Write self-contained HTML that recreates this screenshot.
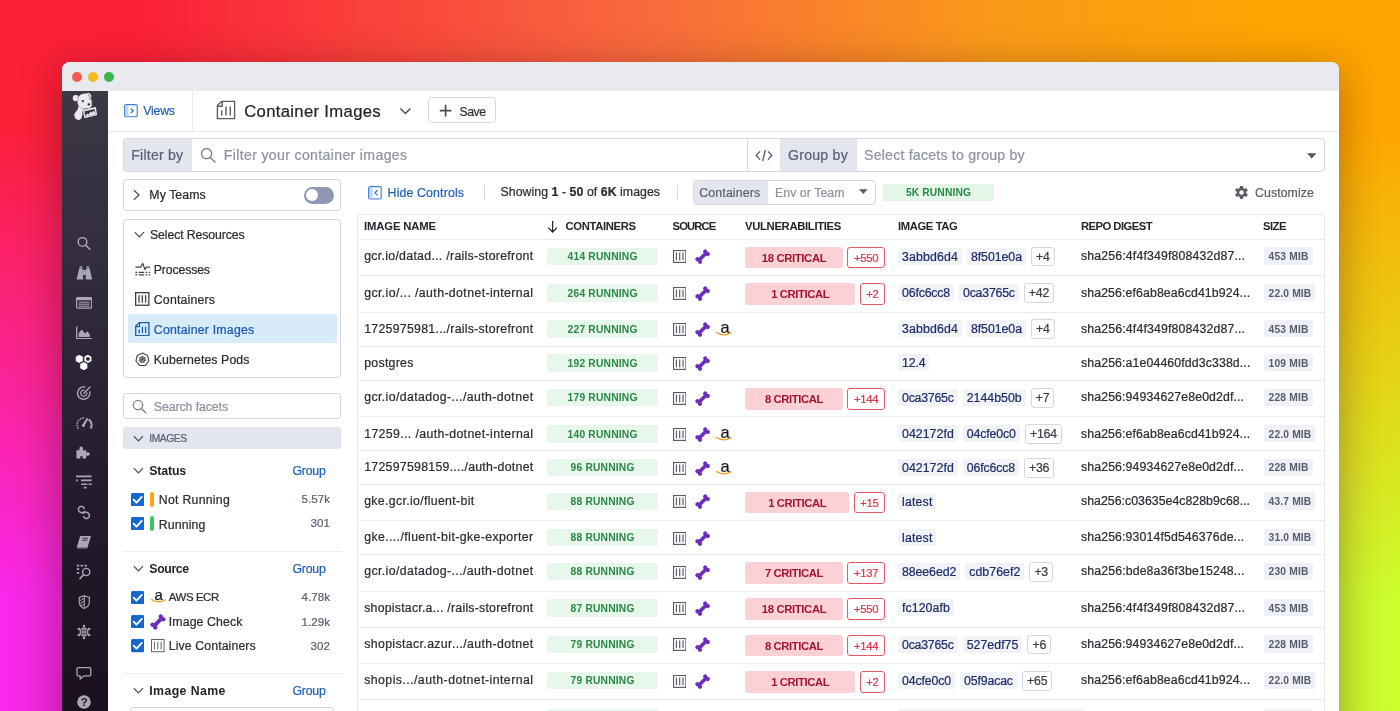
<!DOCTYPE html>
<html lang="en"><head><meta charset="utf-8"><title>Container Images</title>
<style>
html,body{margin:0;padding:0}
body{width:1400px;height:711px;overflow:hidden;position:relative;font-family:"Liberation Sans",Arial,sans-serif;background:#f5703c}
.r{position:absolute;box-sizing:border-box}
.t{position:absolute;white-space:nowrap;display:block;-webkit-text-stroke:0.22px currentColor}
#bg1{position:absolute;left:0;top:0;width:1400px;height:711px;background:linear-gradient(to right,#fb27ee 0%,#f228e0 4%,#ccff2a 100%)}
#bg2{position:absolute;left:0;top:0;width:1400px;height:711px;background:linear-gradient(to right,#fb2038 0%,#fb2038 10%,#f8683e 45%,#fb9a19 71%,#ffa500 92%);-webkit-mask-image:linear-gradient(to bottom,#000 0%,#000 18%,transparent 84%);mask-image:linear-gradient(to bottom,#000 0%,#000 18%,transparent 84%)}
#win{position:absolute;left:62px;top:62px;width:1277px;height:700px;background:#fff;border-radius:8px 8px 0 0;box-shadow:0 8px 42px rgba(40,5,10,.36);overflow:hidden}
</style></head><body>
<div id="bg1"></div><div id="bg2"></div>
<div id="win"></div>
<div class="r" style="left:62.00px;top:62.00px;width:1277.00px;height:29.00px;background:#e9eaee;border-radius:8px 8px 0 0;"></div>
<div class="r" style="left:71.80px;top:71.50px;width:10.00px;height:10.00px;background:#f25c50;border-radius:5px;"></div>
<div class="r" style="left:87.80px;top:71.50px;width:10.00px;height:10.00px;background:#f5b91f;border-radius:5px;"></div>
<div class="r" style="left:104.00px;top:71.50px;width:10.00px;height:10.00px;background:#3cb54a;border-radius:5px;"></div>
<div class="r" style="left:62.00px;top:91.00px;width:46.00px;height:620.00px;background:linear-gradient(to bottom,#3c3845 0%,#332d3d 27%,#2c2436 46%,#241b2c 65%,#1b1120 96%);"></div>
<div class="r" style="left:108.00px;top:130.50px;width:1231.00px;height:1.00px;background:#eaecf1;"></div>
<div class="r" style="left:192.00px;top:91.00px;width:1.00px;height:40.00px;background:#eaecf1;"></div>
<span class="t" style="left:143.20px;top:104px;height:14px;line-height:14px;font-size:12.30px;color:#1f62b8;letter-spacing:-0.198px;">Views</span>
<span class="t" style="left:244.20px;top:102px;height:19px;line-height:19px;font-size:16.71px;color:#24252c;letter-spacing:0.319px;">Container Images</span>
<div class="r" style="left:428.00px;top:97.00px;width:68.00px;height:26.00px;background:#fff;border:1px solid #d5d8e2;border-radius:3.5px;"></div>
<span class="t" style="left:459.60px;top:105px;height:14px;line-height:14px;font-size:12.19px;color:#2f3039;letter-spacing:-0.446px;">Save</span>
<div class="r" style="left:123.00px;top:138.00px;width:1201.50px;height:33.70px;background:#fff;border:1px solid #d5d8e2;border-radius:3px;"></div>
<div class="r" style="left:124.00px;top:139.00px;width:67.50px;height:31.70px;background:#e3e6ef;border-radius:2px 0 0 2px;"></div>
<span class="t" style="left:131.30px;top:147px;height:16px;line-height:16px;font-size:14.14px;color:#5b6173;letter-spacing:0.191px;">Filter by</span>
<span class="t" style="left:223.80px;top:147px;height:16px;line-height:16px;font-size:14.14px;color:#8d92a0;letter-spacing:0.333px;">Filter your container images</span>
<div class="r" style="left:747.00px;top:139.00px;width:1.00px;height:31.70px;background:#d5d8e2;"></div>
<div class="r" style="left:780.00px;top:139.00px;width:77.00px;height:31.70px;background:#e3e6ef;"></div>
<span class="t" style="left:788.00px;top:147px;height:16px;line-height:16px;font-size:14.14px;color:#5b6173;letter-spacing:0.230px;">Group by</span>
<span class="t" style="left:864.00px;top:147px;height:16px;line-height:16px;font-size:14.14px;color:#8d92a0;letter-spacing:0.215px;">Select facets to group by</span>
<div class="r" style="left:123.00px;top:179.00px;width:218.00px;height:31.50px;background:#fff;border:1px solid #d5d8e2;border-radius:3px;"></div>
<span class="t" style="left:149.30px;top:188px;height:14px;line-height:14px;font-size:12.30px;color:#2b2c34;letter-spacing:0.085px;">My Teams</span>
<div class="r" style="left:303.50px;top:187.00px;width:30.00px;height:16.50px;background:#9097b4;border-radius:8.5px;"></div>
<div class="r" style="left:305.70px;top:189.00px;width:12.00px;height:12.00px;background:#fff;border-radius:6px;"></div>
<div class="r" style="left:123.00px;top:218.70px;width:218.00px;height:159.00px;background:#fff;border:1px solid #d5d8e2;border-radius:3px;"></div>
<span class="t" style="left:150.00px;top:228px;height:14px;line-height:14px;font-size:12.30px;color:#2b2c34;letter-spacing:-0.119px;">Select Resources</span>
<span class="t" style="left:153.80px;top:263px;height:14px;line-height:14px;font-size:12.30px;color:#2b2c34;letter-spacing:-0.156px;">Processes</span>
<span class="t" style="left:153.80px;top:293px;height:14px;line-height:14px;font-size:12.30px;color:#2b2c34;letter-spacing:0.182px;">Containers</span>
<div class="r" style="left:127.80px;top:314.30px;width:209.00px;height:29.00px;background:#d7ebf9;border-radius:2px;"></div>
<span class="t" style="left:153.80px;top:323px;height:14px;line-height:14px;font-size:12.30px;color:#1b57b3;letter-spacing:0.219px;">Container Images</span>
<span class="t" style="left:153.80px;top:353px;height:14px;line-height:14px;font-size:12.30px;color:#2b2c34;letter-spacing:0.092px;">Kubernetes Pods</span>
<div class="r" style="left:123.00px;top:393.00px;width:218.00px;height:26.30px;background:#fff;border:1px solid #d5d8e2;border-radius:3px;"></div>
<span class="t" style="left:153.80px;top:400px;height:14px;line-height:14px;font-size:12.30px;color:#8d92a0;letter-spacing:-0.077px;">Search facets</span>
<div class="r" style="left:123.00px;top:427.00px;width:218.00px;height:22.30px;background:#e3e6ef;border-radius:2px;"></div>
<span class="t" style="left:149.20px;top:433px;height:11px;line-height:11px;font-size:10.25px;color:#5b6173;letter-spacing:-0.378px;">IMAGES</span>
<span class="t" style="left:149.30px;top:464px;height:14px;line-height:14px;font-size:12.30px;font-weight:700;-webkit-text-stroke:0;color:#24252c;letter-spacing:-0.149px;">Status</span>
<span class="t" style="left:292.50px;top:464px;height:14px;line-height:14px;font-size:12.30px;color:#1f62b8;letter-spacing:-0.237px;">Group</span>
<span class="t" style="left:149.30px;top:562px;height:14px;line-height:14px;font-size:12.30px;font-weight:700;-webkit-text-stroke:0;color:#24252c;letter-spacing:-0.367px;">Source</span>
<span class="t" style="left:292.50px;top:562px;height:14px;line-height:14px;font-size:12.30px;color:#1f62b8;letter-spacing:-0.237px;">Group</span>
<span class="t" style="left:149.30px;top:684px;height:14px;line-height:14px;font-size:12.30px;font-weight:700;-webkit-text-stroke:0;color:#24252c;letter-spacing:0.403px;">Image Name</span>
<span class="t" style="left:292.50px;top:684px;height:14px;line-height:14px;font-size:12.30px;color:#1f62b8;letter-spacing:-0.237px;">Group</span>
<div class="r" style="left:123.00px;top:550.50px;width:219.00px;height:1.00px;background:#eaecf1;"></div>
<div class="r" style="left:123.00px;top:672.50px;width:219.00px;height:1.00px;background:#eaecf1;"></div>
<div class="r" style="left:130.00px;top:707.30px;width:203.80px;height:22.70px;background:#fff;border:1px solid #d5d8e2;border-radius:3px;"></div>
<svg class="r" style="left:131.20px;top:492.60px;" width="13.20" height="13.20" viewBox="0 0 13.2 13.2"><rect width="13.2" height="13.2" rx="1.6" fill="#1568c9"/><path d="M2.6 6.7 L5.5 9.7 L10.8 3.9" fill="none" stroke="#fff" stroke-width="1.9" stroke-linecap="round" stroke-linejoin="round"/></svg>
<svg class="r" style="left:131.20px;top:517.10px;" width="13.20" height="13.20" viewBox="0 0 13.2 13.2"><rect width="13.2" height="13.2" rx="1.6" fill="#1568c9"/><path d="M2.6 6.7 L5.5 9.7 L10.8 3.9" fill="none" stroke="#fff" stroke-width="1.9" stroke-linecap="round" stroke-linejoin="round"/></svg>
<svg class="r" style="left:131.20px;top:590.70px;" width="13.20" height="13.20" viewBox="0 0 13.2 13.2"><rect width="13.2" height="13.2" rx="1.6" fill="#1568c9"/><path d="M2.6 6.7 L5.5 9.7 L10.8 3.9" fill="none" stroke="#fff" stroke-width="1.9" stroke-linecap="round" stroke-linejoin="round"/></svg>
<svg class="r" style="left:131.20px;top:615.10px;" width="13.20" height="13.20" viewBox="0 0 13.2 13.2"><rect width="13.2" height="13.2" rx="1.6" fill="#1568c9"/><path d="M2.6 6.7 L5.5 9.7 L10.8 3.9" fill="none" stroke="#fff" stroke-width="1.9" stroke-linecap="round" stroke-linejoin="round"/></svg>
<svg class="r" style="left:131.20px;top:639.40px;" width="13.20" height="13.20" viewBox="0 0 13.2 13.2"><rect width="13.2" height="13.2" rx="1.6" fill="#1568c9"/><path d="M2.6 6.7 L5.5 9.7 L10.8 3.9" fill="none" stroke="#fff" stroke-width="1.9" stroke-linecap="round" stroke-linejoin="round"/></svg>
<div class="r" style="left:150.20px;top:491.70px;width:4.30px;height:15.20px;background:#fca311;border-radius:2.2px;"></div>
<div class="r" style="left:150.20px;top:516.20px;width:4.30px;height:15.20px;background:#3ec462;border-radius:2.2px;"></div>
<span class="t" style="left:158.80px;top:493px;height:14px;line-height:14px;font-size:12.30px;color:#2b2c34;letter-spacing:0.266px;">Not Running</span>
<span class="t" style="left:158.80px;top:518px;height:14px;line-height:14px;font-size:12.30px;color:#2b2c34;letter-spacing:0.126px;">Running</span>
<span class="t" style="left:301.55px;top:493px;height:12px;line-height:12px;font-size:11.58px;color:#5b6173;letter-spacing:0.025px;">5.57k</span>
<span class="t" style="left:310.61px;top:517px;height:12px;line-height:12px;font-size:11.58px;color:#5b6173;letter-spacing:0.023px;">301</span>
<span class="t" style="left:168.80px;top:591px;height:12px;line-height:12px;font-size:11.43px;color:#2b2c34;letter-spacing:-0.417px;">AWS ECR</span>
<span class="t" style="left:168.80px;top:615px;height:14px;line-height:14px;font-size:12.30px;color:#2b2c34;letter-spacing:0.121px;">Image Check</span>
<span class="t" style="left:168.80px;top:639px;height:14px;line-height:14px;font-size:12.30px;color:#2b2c34;letter-spacing:0.102px;">Live Containers</span>
<span class="t" style="left:301.55px;top:591px;height:12px;line-height:12px;font-size:11.58px;color:#5b6173;letter-spacing:0.025px;">4.78k</span>
<span class="t" style="left:301.55px;top:616px;height:12px;line-height:12px;font-size:11.58px;color:#5b6173;letter-spacing:0.025px;">1.29k</span>
<span class="t" style="left:310.61px;top:640px;height:12px;line-height:12px;font-size:11.58px;color:#5b6173;letter-spacing:0.023px;">302</span>
<span class="t" style="left:387.60px;top:186px;height:14px;line-height:14px;font-size:12.30px;color:#1f62b8;letter-spacing:0.153px;">Hide Controls</span>
<div class="r" style="left:484.00px;top:185.00px;width:1.00px;height:15.00px;background:#d5d8e2;"></div>
<span class="t" style="left:500.5px;top:184.4px;height:16px;line-height:16px;font-size:12.3px;color:#2b2c34;letter-spacing:0.06px;width:170px">Showing <b>1</b> - <b>50</b> of <b>6K</b> images</span>
<div class="r" style="left:676.50px;top:185.00px;width:1.00px;height:15.00px;background:#d5d8e2;"></div>
<div class="r" style="left:693.00px;top:179.50px;width:182.50px;height:25.50px;background:#fff;border:1px solid #d5d8e2;border-radius:4px;"></div>
<div class="r" style="left:694.00px;top:180.50px;width:73.50px;height:23.50px;background:#e3e6ef;border-radius:3px 0 0 3px;"></div>
<span class="t" style="left:699.30px;top:186px;height:14px;line-height:14px;font-size:12.30px;color:#5b6173;letter-spacing:0.152px;">Containers</span>
<span class="t" style="left:775.00px;top:186px;height:14px;line-height:14px;font-size:12.30px;color:#8d92a0;letter-spacing:0.062px;">Env or Team</span>
<div class="r" style="left:883.00px;top:183.80px;width:111.30px;height:17.00px;background:#e4f6e8;border-radius:2px;"></div>
<span class="t" style="left:906.00px;top:187px;height:11px;line-height:11px;font-size:10.25px;font-weight:700;-webkit-text-stroke:0;color:#2a8745;letter-spacing:0.122px;">5K RUNNING</span>
<span class="t" style="left:1255.00px;top:186px;height:14px;line-height:14px;font-size:12.30px;color:#5a5d67;letter-spacing:0.100px;">Customize</span>
<div class="r" style="left:357.00px;top:213.50px;width:967.50px;height:516.50px;background:#fff;border:1px solid #e8eaef;border-radius:3px;"></div>
<span class="t" style="left:364.00px;top:220px;height:12px;line-height:12px;font-size:11.27px;font-weight:700;-webkit-text-stroke:0;color:#24252c;letter-spacing:-0.126px;">IMAGE NAME</span>
<span class="t" style="left:565.60px;top:220px;height:12px;line-height:12px;font-size:11.27px;font-weight:700;-webkit-text-stroke:0;color:#24252c;letter-spacing:-0.367px;">CONTAINERS</span>
<span class="t" style="left:672.50px;top:220px;height:12px;line-height:12px;font-size:11.27px;font-weight:700;-webkit-text-stroke:0;color:#24252c;letter-spacing:-0.870px;">SOURCE</span>
<span class="t" style="left:745.00px;top:220px;height:12px;line-height:12px;font-size:11.27px;font-weight:700;-webkit-text-stroke:0;color:#24252c;letter-spacing:-0.321px;">VULNERABILITIES</span>
<span class="t" style="left:898.00px;top:220px;height:12px;line-height:12px;font-size:11.27px;font-weight:700;-webkit-text-stroke:0;color:#24252c;letter-spacing:-0.392px;">IMAGE TAG</span>
<span class="t" style="left:1081.00px;top:220px;height:12px;line-height:12px;font-size:11.27px;font-weight:700;-webkit-text-stroke:0;color:#24252c;letter-spacing:-0.548px;">REPO DIGEST</span>
<span class="t" style="left:1263.00px;top:220px;height:12px;line-height:12px;font-size:11.27px;font-weight:700;-webkit-text-stroke:0;color:#24252c;letter-spacing:-0.513px;">SIZE</span>
<div class="r" style="left:357.50px;top:239.00px;width:966.50px;height:1.00px;background:#eaecf1;"></div>
<span class="t" style="left:364.20px;top:249px;height:14px;line-height:14px;font-size:12.30px;color:#2b2c34;letter-spacing:0.303px;">gcr.io/datad... /rails-storefront</span>
<div class="r" style="left:547.00px;top:247.50px;width:111.20px;height:17.50px;background:#e7f7eb;border-radius:2px;"></div>
<span class="t" style="left:567.60px;top:251px;height:11px;line-height:11px;font-size:10.25px;font-weight:700;-webkit-text-stroke:0;color:#2a8745;letter-spacing:0.202px;">414 RUNNING</span>
<svg class="r" style="left:673.00px;top:250.45px;" width="13.40" height="12.90" viewBox="0 0 13.4 12.9"><rect x="0.5" y="0.5" width="12.4" height="11.9" fill="#fff" stroke="#555a68" stroke-width="1.15"/><path d="M3.4 2.6V10.3M6.7 2.6V10.3M10 2.6V10.3" stroke="#555a68" stroke-width="1.15" fill="none"/></svg>
<svg class="r" style="left:694.70px;top:249.45px;" width="15.20" height="15.20" viewBox="0 0 16 16"><g transform="rotate(-45 8 8)" fill="#6a2dbe"><rect x="2.2" y="6.05" width="11.6" height="3.9" /><circle cx="2.2" cy="6.1" r="2.15"/><circle cx="2.2" cy="9.9" r="2.15"/><circle cx="13.8" cy="6.1" r="2.15"/><circle cx="13.8" cy="9.9" r="2.15"/></g></svg>
<div class="r" style="left:745.00px;top:246.80px;width:98.00px;height:21.60px;background:#fbd1d6;border-radius:2.5px;"></div>
<span class="t" style="left:761.75px;top:252px;height:12px;line-height:12px;font-size:11.27px;font-weight:700;-webkit-text-stroke:0;color:#a3152b;letter-spacing:-0.341px;">18 CRITICAL</span>
<div class="r" style="left:847.20px;top:246.80px;width:37.80px;height:21.60px;background:#fff;border:1px solid #e4586a;border-radius:3px;"></div>
<span class="t" style="left:853.97px;top:252px;height:12px;line-height:12px;font-size:11.27px;color:#d9364b;letter-spacing:-0.283px;">+550</span>
<div class="r" style="left:898.00px;top:247.95px;width:63.90px;height:17.00px;background:#f2f3f7;border-radius:2px;"></div>
<span class="t" style="left:902.00px;top:250px;height:14px;line-height:14px;font-size:12.30px;color:#1f2d6b;letter-spacing:0.146px;">3abbd6d4</span>
<div class="r" style="left:966.90px;top:247.95px;width:59.08px;height:17.00px;background:#f2f3f7;border-radius:2px;"></div>
<span class="t" style="left:970.90px;top:250px;height:14px;line-height:14px;font-size:12.30px;color:#1f2d6b;letter-spacing:-0.028px;">8f501e0a</span>
<div class="r" style="left:1030.98px;top:246.55px;width:23.70px;height:19.80px;background:#fff;border:1px solid #d3d7e3;border-radius:3px;"></div>
<span class="t" style="left:1036.08px;top:250px;height:14px;line-height:14px;font-size:12.30px;color:#3a3c46;letter-spacing:-0.262px;">+4</span>
<span class="t" style="left:1081.00px;top:249px;height:14px;line-height:14px;font-size:12.30px;color:#2b2c34;letter-spacing:0.155px;">sha256:4f4f349f808432d87...</span>
<div class="r" style="left:1264.00px;top:247.35px;width:48.60px;height:17.50px;background:#f0f1f6;border-radius:2px;"></div>
<span class="t" style="left:1268.60px;top:251px;height:11px;line-height:11px;font-size:10.25px;font-weight:700;-webkit-text-stroke:0;color:#555c6e;letter-spacing:0.180px;">453 MIB</span>
<div class="r" style="left:357.50px;top:275.00px;width:966.50px;height:1.00px;background:#eaecf1;"></div>
<span class="t" style="left:364.20px;top:286px;height:14px;line-height:14px;font-size:12.30px;color:#2b2c34;letter-spacing:0.398px;">gcr.io/... /auth-dotnet-internal</span>
<div class="r" style="left:547.00px;top:284.00px;width:111.20px;height:17.50px;background:#e7f7eb;border-radius:2px;"></div>
<span class="t" style="left:567.60px;top:288px;height:11px;line-height:11px;font-size:10.25px;font-weight:700;-webkit-text-stroke:0;color:#2a8745;letter-spacing:0.202px;">264 RUNNING</span>
<svg class="r" style="left:673.00px;top:286.95px;" width="13.40" height="12.90" viewBox="0 0 13.4 12.9"><rect x="0.5" y="0.5" width="12.4" height="11.9" fill="#fff" stroke="#555a68" stroke-width="1.15"/><path d="M3.4 2.6V10.3M6.7 2.6V10.3M10 2.6V10.3" stroke="#555a68" stroke-width="1.15" fill="none"/></svg>
<svg class="r" style="left:694.70px;top:285.95px;" width="15.20" height="15.20" viewBox="0 0 16 16"><g transform="rotate(-45 8 8)" fill="#6a2dbe"><rect x="2.2" y="6.05" width="11.6" height="3.9" /><circle cx="2.2" cy="6.1" r="2.15"/><circle cx="2.2" cy="9.9" r="2.15"/><circle cx="13.8" cy="6.1" r="2.15"/><circle cx="13.8" cy="9.9" r="2.15"/></g></svg>
<div class="r" style="left:745.00px;top:283.30px;width:110.30px;height:21.60px;background:#fbd1d6;border-radius:2.5px;"></div>
<span class="t" style="left:771.15px;top:288px;height:12px;line-height:12px;font-size:11.27px;font-weight:700;-webkit-text-stroke:0;color:#a3152b;letter-spacing:-0.399px;">1 CRITICAL</span>
<div class="r" style="left:859.50px;top:283.30px;width:25.50px;height:21.60px;background:#fff;border:1px solid #e4586a;border-radius:3px;"></div>
<span class="t" style="left:866.19px;top:288px;height:12px;line-height:12px;font-size:11.27px;color:#d9364b;letter-spacing:-0.362px;">+2</span>
<div class="r" style="left:898.00px;top:284.45px;width:56.05px;height:17.00px;background:#f2f3f7;border-radius:2px;"></div>
<span class="t" style="left:902.00px;top:286px;height:14px;line-height:14px;font-size:12.30px;color:#1f2d6b;letter-spacing:-0.148px;">06fc6cc8</span>
<div class="r" style="left:959.05px;top:284.45px;width:59.70px;height:17.00px;background:#f2f3f7;border-radius:2px;"></div>
<span class="t" style="left:963.05px;top:286px;height:14px;line-height:14px;font-size:12.30px;color:#1f2d6b;letter-spacing:-0.206px;">0ca3765c</span>
<div class="r" style="left:1023.75px;top:283.05px;width:30.45px;height:19.80px;background:#fff;border:1px solid #d3d7e3;border-radius:3px;"></div>
<span class="t" style="left:1028.85px;top:286px;height:14px;line-height:14px;font-size:12.30px;color:#3a3c46;letter-spacing:-0.205px;">+42</span>
<span class="t" style="left:1081.00px;top:286px;height:14px;line-height:14px;font-size:12.30px;color:#2b2c34;letter-spacing:0.113px;">sha256:ef6ab8ea6cd41b924...</span>
<div class="r" style="left:1264.00px;top:283.85px;width:51.37px;height:17.50px;background:#f0f1f6;border-radius:2px;"></div>
<span class="t" style="left:1268.60px;top:288px;height:11px;line-height:11px;font-size:10.25px;font-weight:700;-webkit-text-stroke:0;color:#555c6e;letter-spacing:0.148px;">22.0 MIB</span>
<div class="r" style="left:357.50px;top:312.00px;width:966.50px;height:1.00px;background:#eaecf1;"></div>
<span class="t" style="left:364.20px;top:322px;height:14px;line-height:14px;font-size:12.30px;color:#2b2c34;letter-spacing:0.287px;">1725975981.../rails-storefront</span>
<div class="r" style="left:547.00px;top:320.00px;width:111.20px;height:17.50px;background:#e7f7eb;border-radius:2px;"></div>
<span class="t" style="left:567.60px;top:324px;height:11px;line-height:11px;font-size:10.25px;font-weight:700;-webkit-text-stroke:0;color:#2a8745;letter-spacing:0.202px;">227 RUNNING</span>
<svg class="r" style="left:673.00px;top:322.95px;" width="13.40" height="12.90" viewBox="0 0 13.4 12.9"><rect x="0.5" y="0.5" width="12.4" height="11.9" fill="#fff" stroke="#555a68" stroke-width="1.15"/><path d="M3.4 2.6V10.3M6.7 2.6V10.3M10 2.6V10.3" stroke="#555a68" stroke-width="1.15" fill="none"/></svg>
<svg class="r" style="left:694.70px;top:321.95px;" width="15.20" height="15.20" viewBox="0 0 16 16"><g transform="rotate(-45 8 8)" fill="#6a2dbe"><rect x="2.2" y="6.05" width="11.6" height="3.9" /><circle cx="2.2" cy="6.1" r="2.15"/><circle cx="2.2" cy="9.9" r="2.15"/><circle cx="13.8" cy="6.1" r="2.15"/><circle cx="13.8" cy="9.9" r="2.15"/></g></svg>
<span class="t" style="left:720.60px;top:318px;height:18px;line-height:18px;font-size:16.40px;color:#17181d;letter-spacing:-0.121px;">a</span>
<svg class="r" style="left:716.40px;top:332.35px;" width="16.00" height="4.00" viewBox="0 0 16 4"><path d="M0.6 0.6 C4.5 3.6 11 3.6 15 0.8" fill="none" stroke="#f79a1c" stroke-width="1.2" stroke-linecap="round"/></svg>
<div class="r" style="left:898.00px;top:320.45px;width:63.90px;height:17.00px;background:#f2f3f7;border-radius:2px;"></div>
<span class="t" style="left:902.00px;top:322px;height:14px;line-height:14px;font-size:12.30px;color:#1f2d6b;letter-spacing:0.146px;">3abbd6d4</span>
<div class="r" style="left:966.90px;top:320.45px;width:59.08px;height:17.00px;background:#f2f3f7;border-radius:2px;"></div>
<span class="t" style="left:970.90px;top:322px;height:14px;line-height:14px;font-size:12.30px;color:#1f2d6b;letter-spacing:-0.028px;">8f501e0a</span>
<div class="r" style="left:1030.98px;top:319.05px;width:23.70px;height:19.80px;background:#fff;border:1px solid #d3d7e3;border-radius:3px;"></div>
<span class="t" style="left:1036.08px;top:322px;height:14px;line-height:14px;font-size:12.30px;color:#3a3c46;letter-spacing:-0.262px;">+4</span>
<span class="t" style="left:1081.00px;top:322px;height:14px;line-height:14px;font-size:12.30px;color:#2b2c34;letter-spacing:0.155px;">sha256:4f4f349f808432d87...</span>
<div class="r" style="left:1264.00px;top:319.85px;width:48.60px;height:17.50px;background:#f0f1f6;border-radius:2px;"></div>
<span class="t" style="left:1268.60px;top:324px;height:11px;line-height:11px;font-size:10.25px;font-weight:700;-webkit-text-stroke:0;color:#555c6e;letter-spacing:0.180px;">453 MIB</span>
<div class="r" style="left:357.50px;top:346.00px;width:966.50px;height:1.00px;background:#eaecf1;"></div>
<span class="t" style="left:364.20px;top:356px;height:14px;line-height:14px;font-size:12.30px;color:#2b2c34;letter-spacing:0.290px;">postgres</span>
<div class="r" style="left:547.00px;top:354.00px;width:111.20px;height:17.50px;background:#e7f7eb;border-radius:2px;"></div>
<span class="t" style="left:567.60px;top:358px;height:11px;line-height:11px;font-size:10.25px;font-weight:700;-webkit-text-stroke:0;color:#2a8745;letter-spacing:0.202px;">192 RUNNING</span>
<svg class="r" style="left:673.00px;top:356.95px;" width="13.40" height="12.90" viewBox="0 0 13.4 12.9"><rect x="0.5" y="0.5" width="12.4" height="11.9" fill="#fff" stroke="#555a68" stroke-width="1.15"/><path d="M3.4 2.6V10.3M6.7 2.6V10.3M10 2.6V10.3" stroke="#555a68" stroke-width="1.15" fill="none"/></svg>
<svg class="r" style="left:694.70px;top:355.95px;" width="15.20" height="15.20" viewBox="0 0 16 16"><g transform="rotate(-45 8 8)" fill="#6a2dbe"><rect x="2.2" y="6.05" width="11.6" height="3.9" /><circle cx="2.2" cy="6.1" r="2.15"/><circle cx="2.2" cy="9.9" r="2.15"/><circle cx="13.8" cy="6.1" r="2.15"/><circle cx="13.8" cy="9.9" r="2.15"/></g></svg>
<div class="r" style="left:898.00px;top:354.45px;width:31.41px;height:17.00px;background:#f2f3f7;border-radius:2px;"></div>
<span class="t" style="left:902.00px;top:356px;height:14px;line-height:14px;font-size:12.30px;color:#1f2d6b;letter-spacing:-0.132px;">12.4</span>
<span class="t" style="left:1081.00px;top:356px;height:14px;line-height:14px;font-size:12.30px;color:#2b2c34;letter-spacing:0.121px;">sha256:a1e04460fdd3c338d...</span>
<div class="r" style="left:1264.00px;top:353.85px;width:48.60px;height:17.50px;background:#f0f1f6;border-radius:2px;"></div>
<span class="t" style="left:1268.60px;top:358px;height:11px;line-height:11px;font-size:10.25px;font-weight:700;-webkit-text-stroke:0;color:#555c6e;letter-spacing:0.180px;">109 MIB</span>
<div class="r" style="left:357.50px;top:380.00px;width:966.50px;height:1.00px;background:#eaecf1;"></div>
<span class="t" style="left:364.20px;top:390px;height:14px;line-height:14px;font-size:12.30px;color:#2b2c34;letter-spacing:0.401px;">gcr.io/datadog-.../auth-dotnet</span>
<div class="r" style="left:547.00px;top:388.75px;width:111.20px;height:17.50px;background:#e7f7eb;border-radius:2px;"></div>
<span class="t" style="left:567.60px;top:392px;height:11px;line-height:11px;font-size:10.25px;font-weight:700;-webkit-text-stroke:0;color:#2a8745;letter-spacing:0.202px;">179 RUNNING</span>
<svg class="r" style="left:673.00px;top:391.70px;" width="13.40" height="12.90" viewBox="0 0 13.4 12.9"><rect x="0.5" y="0.5" width="12.4" height="11.9" fill="#fff" stroke="#555a68" stroke-width="1.15"/><path d="M3.4 2.6V10.3M6.7 2.6V10.3M10 2.6V10.3" stroke="#555a68" stroke-width="1.15" fill="none"/></svg>
<svg class="r" style="left:694.70px;top:390.70px;" width="15.20" height="15.20" viewBox="0 0 16 16"><g transform="rotate(-45 8 8)" fill="#6a2dbe"><rect x="2.2" y="6.05" width="11.6" height="3.9" /><circle cx="2.2" cy="6.1" r="2.15"/><circle cx="2.2" cy="9.9" r="2.15"/><circle cx="13.8" cy="6.1" r="2.15"/><circle cx="13.8" cy="9.9" r="2.15"/></g></svg>
<div class="r" style="left:745.00px;top:388.05px;width:98.00px;height:21.60px;background:#fbd1d6;border-radius:2.5px;"></div>
<span class="t" style="left:765.00px;top:393px;height:12px;line-height:12px;font-size:11.27px;font-weight:700;-webkit-text-stroke:0;color:#a3152b;letter-spacing:-0.399px;">8 CRITICAL</span>
<div class="r" style="left:847.20px;top:388.05px;width:37.80px;height:21.60px;background:#fff;border:1px solid #e4586a;border-radius:3px;"></div>
<span class="t" style="left:853.97px;top:393px;height:12px;line-height:12px;font-size:11.27px;color:#d9364b;letter-spacing:-0.283px;">+144</span>
<div class="r" style="left:898.00px;top:389.20px;width:59.70px;height:17.00px;background:#f2f3f7;border-radius:2px;"></div>
<span class="t" style="left:902.00px;top:391px;height:14px;line-height:14px;font-size:12.30px;color:#1f2d6b;letter-spacing:-0.206px;">0ca3765c</span>
<div class="r" style="left:962.70px;top:389.20px;width:63.01px;height:17.00px;background:#f2f3f7;border-radius:2px;"></div>
<span class="t" style="left:966.70px;top:391px;height:14px;line-height:14px;font-size:12.30px;color:#1f2d6b;letter-spacing:0.036px;">2144b50b</span>
<div class="r" style="left:1030.71px;top:387.80px;width:23.70px;height:19.80px;background:#fff;border:1px solid #d3d7e3;border-radius:3px;"></div>
<span class="t" style="left:1035.81px;top:391px;height:14px;line-height:14px;font-size:12.30px;color:#3a3c46;letter-spacing:-0.262px;">+7</span>
<span class="t" style="left:1081.00px;top:390px;height:14px;line-height:14px;font-size:12.30px;color:#2b2c34;letter-spacing:0.120px;">sha256:94934627e8e0d2df...</span>
<div class="r" style="left:1264.00px;top:388.60px;width:48.60px;height:17.50px;background:#f0f1f6;border-radius:2px;"></div>
<span class="t" style="left:1268.60px;top:392px;height:11px;line-height:11px;font-size:10.25px;font-weight:700;-webkit-text-stroke:0;color:#555c6e;letter-spacing:0.180px;">228 MIB</span>
<div class="r" style="left:357.50px;top:416.00px;width:966.50px;height:1.00px;background:#eaecf1;"></div>
<span class="t" style="left:364.20px;top:427px;height:14px;line-height:14px;font-size:12.30px;color:#2b2c34;letter-spacing:0.378px;">17259... /auth-dotnet-internal</span>
<div class="r" style="left:547.00px;top:425.00px;width:111.20px;height:17.50px;background:#e7f7eb;border-radius:2px;"></div>
<span class="t" style="left:567.60px;top:429px;height:11px;line-height:11px;font-size:10.25px;font-weight:700;-webkit-text-stroke:0;color:#2a8745;letter-spacing:0.202px;">140 RUNNING</span>
<svg class="r" style="left:673.00px;top:427.95px;" width="13.40" height="12.90" viewBox="0 0 13.4 12.9"><rect x="0.5" y="0.5" width="12.4" height="11.9" fill="#fff" stroke="#555a68" stroke-width="1.15"/><path d="M3.4 2.6V10.3M6.7 2.6V10.3M10 2.6V10.3" stroke="#555a68" stroke-width="1.15" fill="none"/></svg>
<svg class="r" style="left:694.70px;top:426.95px;" width="15.20" height="15.20" viewBox="0 0 16 16"><g transform="rotate(-45 8 8)" fill="#6a2dbe"><rect x="2.2" y="6.05" width="11.6" height="3.9" /><circle cx="2.2" cy="6.1" r="2.15"/><circle cx="2.2" cy="9.9" r="2.15"/><circle cx="13.8" cy="6.1" r="2.15"/><circle cx="13.8" cy="9.9" r="2.15"/></g></svg>
<span class="t" style="left:720.60px;top:423px;height:18px;line-height:18px;font-size:16.40px;color:#17181d;letter-spacing:-0.121px;">a</span>
<svg class="r" style="left:716.40px;top:437.35px;" width="16.00" height="4.00" viewBox="0 0 16 4"><path d="M0.6 0.6 C4.5 3.6 11 3.6 15 0.8" fill="none" stroke="#f79a1c" stroke-width="1.2" stroke-linecap="round"/></svg>
<div class="r" style="left:898.00px;top:425.45px;width:59.81px;height:17.00px;background:#f2f3f7;border-radius:2px;"></div>
<span class="t" style="left:902.00px;top:427px;height:14px;line-height:14px;font-size:12.30px;color:#1f2d6b;letter-spacing:0.064px;">042172fd</span>
<div class="r" style="left:962.81px;top:425.45px;width:57.04px;height:17.00px;background:#f2f3f7;border-radius:2px;"></div>
<span class="t" style="left:966.81px;top:427px;height:14px;line-height:14px;font-size:12.30px;color:#1f2d6b;letter-spacing:-0.110px;">04cfe0c0</span>
<div class="r" style="left:1024.85px;top:424.05px;width:37.20px;height:19.80px;background:#fff;border:1px solid #d3d7e3;border-radius:3px;"></div>
<span class="t" style="left:1029.95px;top:427px;height:14px;line-height:14px;font-size:12.30px;color:#3a3c46;letter-spacing:-0.177px;">+164</span>
<span class="t" style="left:1081.00px;top:427px;height:14px;line-height:14px;font-size:12.30px;color:#2b2c34;letter-spacing:0.113px;">sha256:ef6ab8ea6cd41b924...</span>
<div class="r" style="left:1264.00px;top:424.85px;width:51.37px;height:17.50px;background:#f0f1f6;border-radius:2px;"></div>
<span class="t" style="left:1268.60px;top:429px;height:11px;line-height:11px;font-size:10.25px;font-weight:700;-webkit-text-stroke:0;color:#555c6e;letter-spacing:0.148px;">22.0 MIB</span>
<div class="r" style="left:357.50px;top:450.00px;width:966.50px;height:1.00px;background:#eaecf1;"></div>
<span class="t" style="left:364.20px;top:460px;height:14px;line-height:14px;font-size:12.30px;color:#2b2c34;letter-spacing:0.282px;">172597598159..../auth-dotnet</span>
<div class="r" style="left:547.00px;top:458.75px;width:111.20px;height:17.50px;background:#e7f7eb;border-radius:2px;"></div>
<span class="t" style="left:570.60px;top:462px;height:11px;line-height:11px;font-size:10.25px;font-weight:700;-webkit-text-stroke:0;color:#2a8745;letter-spacing:0.192px;">96 RUNNING</span>
<svg class="r" style="left:673.00px;top:461.70px;" width="13.40" height="12.90" viewBox="0 0 13.4 12.9"><rect x="0.5" y="0.5" width="12.4" height="11.9" fill="#fff" stroke="#555a68" stroke-width="1.15"/><path d="M3.4 2.6V10.3M6.7 2.6V10.3M10 2.6V10.3" stroke="#555a68" stroke-width="1.15" fill="none"/></svg>
<svg class="r" style="left:694.70px;top:460.70px;" width="15.20" height="15.20" viewBox="0 0 16 16"><g transform="rotate(-45 8 8)" fill="#6a2dbe"><rect x="2.2" y="6.05" width="11.6" height="3.9" /><circle cx="2.2" cy="6.1" r="2.15"/><circle cx="2.2" cy="9.9" r="2.15"/><circle cx="13.8" cy="6.1" r="2.15"/><circle cx="13.8" cy="9.9" r="2.15"/></g></svg>
<span class="t" style="left:720.60px;top:457px;height:18px;line-height:18px;font-size:16.40px;color:#17181d;letter-spacing:-0.121px;">a</span>
<svg class="r" style="left:716.40px;top:471.10px;" width="16.00" height="4.00" viewBox="0 0 16 4"><path d="M0.6 0.6 C4.5 3.6 11 3.6 15 0.8" fill="none" stroke="#f79a1c" stroke-width="1.2" stroke-linecap="round"/></svg>
<div class="r" style="left:898.00px;top:459.20px;width:59.81px;height:17.00px;background:#f2f3f7;border-radius:2px;"></div>
<span class="t" style="left:902.00px;top:461px;height:14px;line-height:14px;font-size:12.30px;color:#1f2d6b;letter-spacing:0.064px;">042172fd</span>
<div class="r" style="left:962.81px;top:459.20px;width:56.05px;height:17.00px;background:#f2f3f7;border-radius:2px;"></div>
<span class="t" style="left:966.81px;top:461px;height:14px;line-height:14px;font-size:12.30px;color:#1f2d6b;letter-spacing:-0.148px;">06fc6cc8</span>
<div class="r" style="left:1023.86px;top:457.80px;width:30.45px;height:19.80px;background:#fff;border:1px solid #d3d7e3;border-radius:3px;"></div>
<span class="t" style="left:1028.96px;top:461px;height:14px;line-height:14px;font-size:12.30px;color:#3a3c46;letter-spacing:-0.205px;">+36</span>
<span class="t" style="left:1081.00px;top:460px;height:14px;line-height:14px;font-size:12.30px;color:#2b2c34;letter-spacing:0.120px;">sha256:94934627e8e0d2df...</span>
<div class="r" style="left:1264.00px;top:458.60px;width:48.60px;height:17.50px;background:#f0f1f6;border-radius:2px;"></div>
<span class="t" style="left:1268.60px;top:462px;height:11px;line-height:11px;font-size:10.25px;font-weight:700;-webkit-text-stroke:0;color:#555c6e;letter-spacing:0.180px;">228 MIB</span>
<div class="r" style="left:357.50px;top:484.00px;width:966.50px;height:1.00px;background:#eaecf1;"></div>
<span class="t" style="left:364.20px;top:494px;height:14px;line-height:14px;font-size:12.30px;color:#2b2c34;letter-spacing:0.336px;">gke.gcr.io/fluent-bit</span>
<div class="r" style="left:547.00px;top:492.50px;width:111.20px;height:17.50px;background:#e7f7eb;border-radius:2px;"></div>
<span class="t" style="left:570.60px;top:496px;height:11px;line-height:11px;font-size:10.25px;font-weight:700;-webkit-text-stroke:0;color:#2a8745;letter-spacing:0.192px;">88 RUNNING</span>
<svg class="r" style="left:673.00px;top:495.45px;" width="13.40" height="12.90" viewBox="0 0 13.4 12.9"><rect x="0.5" y="0.5" width="12.4" height="11.9" fill="#fff" stroke="#555a68" stroke-width="1.15"/><path d="M3.4 2.6V10.3M6.7 2.6V10.3M10 2.6V10.3" stroke="#555a68" stroke-width="1.15" fill="none"/></svg>
<svg class="r" style="left:694.70px;top:494.45px;" width="15.20" height="15.20" viewBox="0 0 16 16"><g transform="rotate(-45 8 8)" fill="#6a2dbe"><rect x="2.2" y="6.05" width="11.6" height="3.9" /><circle cx="2.2" cy="6.1" r="2.15"/><circle cx="2.2" cy="9.9" r="2.15"/><circle cx="13.8" cy="6.1" r="2.15"/><circle cx="13.8" cy="9.9" r="2.15"/></g></svg>
<div class="r" style="left:745.00px;top:491.80px;width:104.30px;height:21.60px;background:#fbd1d6;border-radius:2.5px;"></div>
<span class="t" style="left:768.15px;top:497px;height:12px;line-height:12px;font-size:11.27px;font-weight:700;-webkit-text-stroke:0;color:#a3152b;letter-spacing:-0.399px;">1 CRITICAL</span>
<div class="r" style="left:853.50px;top:491.80px;width:31.50px;height:21.60px;background:#fff;border:1px solid #e4586a;border-radius:3px;"></div>
<span class="t" style="left:860.16px;top:497px;height:12px;line-height:12px;font-size:11.27px;color:#d9364b;letter-spacing:-0.309px;">+15</span>
<div class="r" style="left:898.00px;top:492.95px;width:38.49px;height:17.00px;background:#f2f3f7;border-radius:2px;"></div>
<span class="t" style="left:902.00px;top:495px;height:14px;line-height:14px;font-size:12.30px;color:#1f2d6b;letter-spacing:0.182px;">latest</span>
<span class="t" style="left:1081.00px;top:494px;height:14px;line-height:14px;font-size:12.30px;color:#2b2c34;letter-spacing:0.032px;">sha256:c03635e4c828b9c68...</span>
<div class="r" style="left:1264.00px;top:492.35px;width:51.37px;height:17.50px;background:#f0f1f6;border-radius:2px;"></div>
<span class="t" style="left:1268.60px;top:496px;height:11px;line-height:11px;font-size:10.25px;font-weight:700;-webkit-text-stroke:0;color:#555c6e;letter-spacing:0.148px;">43.7 MIB</span>
<div class="r" style="left:357.50px;top:520.00px;width:966.50px;height:1.00px;background:#eaecf1;"></div>
<span class="t" style="left:364.20px;top:530px;height:14px;line-height:14px;font-size:12.30px;color:#2b2c34;letter-spacing:0.389px;">gke..../fluent-bit-gke-exporter</span>
<div class="r" style="left:547.00px;top:528.75px;width:111.20px;height:17.50px;background:#e7f7eb;border-radius:2px;"></div>
<span class="t" style="left:570.60px;top:532px;height:11px;line-height:11px;font-size:10.25px;font-weight:700;-webkit-text-stroke:0;color:#2a8745;letter-spacing:0.192px;">88 RUNNING</span>
<svg class="r" style="left:673.00px;top:531.70px;" width="13.40" height="12.90" viewBox="0 0 13.4 12.9"><rect x="0.5" y="0.5" width="12.4" height="11.9" fill="#fff" stroke="#555a68" stroke-width="1.15"/><path d="M3.4 2.6V10.3M6.7 2.6V10.3M10 2.6V10.3" stroke="#555a68" stroke-width="1.15" fill="none"/></svg>
<svg class="r" style="left:694.70px;top:530.70px;" width="15.20" height="15.20" viewBox="0 0 16 16"><g transform="rotate(-45 8 8)" fill="#6a2dbe"><rect x="2.2" y="6.05" width="11.6" height="3.9" /><circle cx="2.2" cy="6.1" r="2.15"/><circle cx="2.2" cy="9.9" r="2.15"/><circle cx="13.8" cy="6.1" r="2.15"/><circle cx="13.8" cy="9.9" r="2.15"/></g></svg>
<div class="r" style="left:898.00px;top:529.20px;width:38.49px;height:17.00px;background:#f2f3f7;border-radius:2px;"></div>
<span class="t" style="left:902.00px;top:531px;height:14px;line-height:14px;font-size:12.30px;color:#1f2d6b;letter-spacing:0.182px;">latest</span>
<span class="t" style="left:1081.00px;top:530px;height:14px;line-height:14px;font-size:12.30px;color:#2b2c34;letter-spacing:0.123px;">sha256:93014f5d546376de...</span>
<div class="r" style="left:1264.00px;top:528.60px;width:51.37px;height:17.50px;background:#f0f1f6;border-radius:2px;"></div>
<span class="t" style="left:1268.60px;top:532px;height:11px;line-height:11px;font-size:10.25px;font-weight:700;-webkit-text-stroke:0;color:#555c6e;letter-spacing:0.148px;">31.0 MIB</span>
<div class="r" style="left:357.50px;top:554.00px;width:966.50px;height:1.00px;background:#eaecf1;"></div>
<span class="t" style="left:364.20px;top:564px;height:14px;line-height:14px;font-size:12.30px;color:#2b2c34;letter-spacing:0.401px;">gcr.io/datadog-.../auth-dotnet</span>
<div class="r" style="left:547.00px;top:562.75px;width:111.20px;height:17.50px;background:#e7f7eb;border-radius:2px;"></div>
<span class="t" style="left:570.60px;top:566px;height:11px;line-height:11px;font-size:10.25px;font-weight:700;-webkit-text-stroke:0;color:#2a8745;letter-spacing:0.192px;">88 RUNNING</span>
<svg class="r" style="left:673.00px;top:565.70px;" width="13.40" height="12.90" viewBox="0 0 13.4 12.9"><rect x="0.5" y="0.5" width="12.4" height="11.9" fill="#fff" stroke="#555a68" stroke-width="1.15"/><path d="M3.4 2.6V10.3M6.7 2.6V10.3M10 2.6V10.3" stroke="#555a68" stroke-width="1.15" fill="none"/></svg>
<svg class="r" style="left:694.70px;top:564.70px;" width="15.20" height="15.20" viewBox="0 0 16 16"><g transform="rotate(-45 8 8)" fill="#6a2dbe"><rect x="2.2" y="6.05" width="11.6" height="3.9" /><circle cx="2.2" cy="6.1" r="2.15"/><circle cx="2.2" cy="9.9" r="2.15"/><circle cx="13.8" cy="6.1" r="2.15"/><circle cx="13.8" cy="9.9" r="2.15"/></g></svg>
<div class="r" style="left:745.00px;top:562.05px;width:98.00px;height:21.60px;background:#fbd1d6;border-radius:2.5px;"></div>
<span class="t" style="left:765.00px;top:567px;height:12px;line-height:12px;font-size:11.27px;font-weight:700;-webkit-text-stroke:0;color:#a3152b;letter-spacing:-0.399px;">7 CRITICAL</span>
<div class="r" style="left:847.20px;top:562.05px;width:37.80px;height:21.60px;background:#fff;border:1px solid #e4586a;border-radius:3px;"></div>
<span class="t" style="left:853.97px;top:567px;height:12px;line-height:12px;font-size:11.27px;color:#d9364b;letter-spacing:-0.283px;">+137</span>
<div class="r" style="left:898.00px;top:563.20px;width:62.22px;height:17.00px;background:#f2f3f7;border-radius:2px;"></div>
<span class="t" style="left:902.00px;top:565px;height:14px;line-height:14px;font-size:12.30px;color:#1f2d6b;letter-spacing:-0.063px;">88ee6ed2</span>
<div class="r" style="left:965.22px;top:563.20px;width:59.14px;height:17.00px;background:#f2f3f7;border-radius:2px;"></div>
<span class="t" style="left:969.22px;top:565px;height:14px;line-height:14px;font-size:12.30px;color:#1f2d6b;letter-spacing:0.066px;">cdb76ef2</span>
<div class="r" style="left:1029.36px;top:561.80px;width:23.70px;height:19.80px;background:#fff;border:1px solid #d3d7e3;border-radius:3px;"></div>
<span class="t" style="left:1034.46px;top:565px;height:14px;line-height:14px;font-size:12.30px;color:#3a3c46;letter-spacing:-0.262px;">+3</span>
<span class="t" style="left:1081.00px;top:564px;height:14px;line-height:14px;font-size:12.30px;color:#2b2c34;letter-spacing:0.134px;">sha256:bde8a36f3be15248...</span>
<div class="r" style="left:1264.00px;top:562.60px;width:48.60px;height:17.50px;background:#f0f1f6;border-radius:2px;"></div>
<span class="t" style="left:1268.60px;top:566px;height:11px;line-height:11px;font-size:10.25px;font-weight:700;-webkit-text-stroke:0;color:#555c6e;letter-spacing:0.180px;">230 MIB</span>
<div class="r" style="left:357.50px;top:591.00px;width:966.50px;height:1.00px;background:#eaecf1;"></div>
<span class="t" style="left:364.20px;top:601px;height:14px;line-height:14px;font-size:12.30px;color:#2b2c34;letter-spacing:0.241px;">shopistacr.a... /rails-storefront</span>
<div class="r" style="left:547.00px;top:599.00px;width:111.20px;height:17.50px;background:#e7f7eb;border-radius:2px;"></div>
<span class="t" style="left:570.60px;top:603px;height:11px;line-height:11px;font-size:10.25px;font-weight:700;-webkit-text-stroke:0;color:#2a8745;letter-spacing:0.192px;">87 RUNNING</span>
<svg class="r" style="left:673.00px;top:601.95px;" width="13.40" height="12.90" viewBox="0 0 13.4 12.9"><rect x="0.5" y="0.5" width="12.4" height="11.9" fill="#fff" stroke="#555a68" stroke-width="1.15"/><path d="M3.4 2.6V10.3M6.7 2.6V10.3M10 2.6V10.3" stroke="#555a68" stroke-width="1.15" fill="none"/></svg>
<svg class="r" style="left:694.70px;top:600.95px;" width="15.20" height="15.20" viewBox="0 0 16 16"><g transform="rotate(-45 8 8)" fill="#6a2dbe"><rect x="2.2" y="6.05" width="11.6" height="3.9" /><circle cx="2.2" cy="6.1" r="2.15"/><circle cx="2.2" cy="9.9" r="2.15"/><circle cx="13.8" cy="6.1" r="2.15"/><circle cx="13.8" cy="9.9" r="2.15"/></g></svg>
<div class="r" style="left:745.00px;top:598.30px;width:98.00px;height:21.60px;background:#fbd1d6;border-radius:2.5px;"></div>
<span class="t" style="left:761.75px;top:603px;height:12px;line-height:12px;font-size:11.27px;font-weight:700;-webkit-text-stroke:0;color:#a3152b;letter-spacing:-0.341px;">18 CRITICAL</span>
<div class="r" style="left:847.20px;top:598.30px;width:37.80px;height:21.60px;background:#fff;border:1px solid #e4586a;border-radius:3px;"></div>
<span class="t" style="left:853.97px;top:603px;height:12px;line-height:12px;font-size:11.27px;color:#d9364b;letter-spacing:-0.283px;">+550</span>
<div class="r" style="left:898.00px;top:599.45px;width:55.91px;height:17.00px;background:#f2f3f7;border-radius:2px;"></div>
<span class="t" style="left:902.00px;top:601px;height:14px;line-height:14px;font-size:12.30px;color:#1f2d6b;letter-spacing:0.090px;">fc120afb</span>
<span class="t" style="left:1081.00px;top:601px;height:14px;line-height:14px;font-size:12.30px;color:#2b2c34;letter-spacing:0.155px;">sha256:4f4f349f808432d87...</span>
<div class="r" style="left:1264.00px;top:598.85px;width:48.60px;height:17.50px;background:#f0f1f6;border-radius:2px;"></div>
<span class="t" style="left:1268.60px;top:603px;height:11px;line-height:11px;font-size:10.25px;font-weight:700;-webkit-text-stroke:0;color:#555c6e;letter-spacing:0.180px;">453 MIB</span>
<div class="r" style="left:357.50px;top:627.00px;width:966.50px;height:1.00px;background:#eaecf1;"></div>
<span class="t" style="left:364.20px;top:637px;height:14px;line-height:14px;font-size:12.30px;color:#2b2c34;letter-spacing:0.378px;">shopistacr.azur.../auth-dotnet</span>
<div class="r" style="left:547.00px;top:635.50px;width:111.20px;height:17.50px;background:#e7f7eb;border-radius:2px;"></div>
<span class="t" style="left:570.60px;top:639px;height:11px;line-height:11px;font-size:10.25px;font-weight:700;-webkit-text-stroke:0;color:#2a8745;letter-spacing:0.192px;">79 RUNNING</span>
<svg class="r" style="left:673.00px;top:638.45px;" width="13.40" height="12.90" viewBox="0 0 13.4 12.9"><rect x="0.5" y="0.5" width="12.4" height="11.9" fill="#fff" stroke="#555a68" stroke-width="1.15"/><path d="M3.4 2.6V10.3M6.7 2.6V10.3M10 2.6V10.3" stroke="#555a68" stroke-width="1.15" fill="none"/></svg>
<svg class="r" style="left:694.70px;top:637.45px;" width="15.20" height="15.20" viewBox="0 0 16 16"><g transform="rotate(-45 8 8)" fill="#6a2dbe"><rect x="2.2" y="6.05" width="11.6" height="3.9" /><circle cx="2.2" cy="6.1" r="2.15"/><circle cx="2.2" cy="9.9" r="2.15"/><circle cx="13.8" cy="6.1" r="2.15"/><circle cx="13.8" cy="9.9" r="2.15"/></g></svg>
<div class="r" style="left:745.00px;top:634.80px;width:98.00px;height:21.60px;background:#fbd1d6;border-radius:2.5px;"></div>
<span class="t" style="left:765.00px;top:640px;height:12px;line-height:12px;font-size:11.27px;font-weight:700;-webkit-text-stroke:0;color:#a3152b;letter-spacing:-0.399px;">8 CRITICAL</span>
<div class="r" style="left:847.20px;top:634.80px;width:37.80px;height:21.60px;background:#fff;border:1px solid #e4586a;border-radius:3px;"></div>
<span class="t" style="left:853.97px;top:640px;height:12px;line-height:12px;font-size:11.27px;color:#d9364b;letter-spacing:-0.283px;">+144</span>
<div class="r" style="left:898.00px;top:635.95px;width:59.70px;height:17.00px;background:#f2f3f7;border-radius:2px;"></div>
<span class="t" style="left:902.00px;top:638px;height:14px;line-height:14px;font-size:12.30px;color:#1f2d6b;letter-spacing:-0.206px;">0ca3765c</span>
<div class="r" style="left:962.70px;top:635.95px;width:59.72px;height:17.00px;background:#f2f3f7;border-radius:2px;"></div>
<span class="t" style="left:966.70px;top:638px;height:14px;line-height:14px;font-size:12.30px;color:#1f2d6b;letter-spacing:0.052px;">527edf75</span>
<div class="r" style="left:1027.42px;top:634.55px;width:23.70px;height:19.80px;background:#fff;border:1px solid #d3d7e3;border-radius:3px;"></div>
<span class="t" style="left:1032.52px;top:638px;height:14px;line-height:14px;font-size:12.30px;color:#3a3c46;letter-spacing:-0.262px;">+6</span>
<span class="t" style="left:1081.00px;top:637px;height:14px;line-height:14px;font-size:12.30px;color:#2b2c34;letter-spacing:0.120px;">sha256:94934627e8e0d2df...</span>
<div class="r" style="left:1264.00px;top:635.35px;width:48.60px;height:17.50px;background:#f0f1f6;border-radius:2px;"></div>
<span class="t" style="left:1268.60px;top:639px;height:11px;line-height:11px;font-size:10.25px;font-weight:700;-webkit-text-stroke:0;color:#555c6e;letter-spacing:0.180px;">228 MIB</span>
<div class="r" style="left:357.50px;top:663.00px;width:966.50px;height:1.00px;background:#eaecf1;"></div>
<span class="t" style="left:364.20px;top:673px;height:14px;line-height:14px;font-size:12.30px;color:#2b2c34;letter-spacing:0.447px;">shopis.../auth-dotnet-internal</span>
<div class="r" style="left:547.00px;top:671.75px;width:111.20px;height:17.50px;background:#e7f7eb;border-radius:2px;"></div>
<span class="t" style="left:570.60px;top:675px;height:11px;line-height:11px;font-size:10.25px;font-weight:700;-webkit-text-stroke:0;color:#2a8745;letter-spacing:0.192px;">79 RUNNING</span>
<svg class="r" style="left:673.00px;top:674.70px;" width="13.40" height="12.90" viewBox="0 0 13.4 12.9"><rect x="0.5" y="0.5" width="12.4" height="11.9" fill="#fff" stroke="#555a68" stroke-width="1.15"/><path d="M3.4 2.6V10.3M6.7 2.6V10.3M10 2.6V10.3" stroke="#555a68" stroke-width="1.15" fill="none"/></svg>
<svg class="r" style="left:694.70px;top:673.70px;" width="15.20" height="15.20" viewBox="0 0 16 16"><g transform="rotate(-45 8 8)" fill="#6a2dbe"><rect x="2.2" y="6.05" width="11.6" height="3.9" /><circle cx="2.2" cy="6.1" r="2.15"/><circle cx="2.2" cy="9.9" r="2.15"/><circle cx="13.8" cy="6.1" r="2.15"/><circle cx="13.8" cy="9.9" r="2.15"/></g></svg>
<div class="r" style="left:745.00px;top:671.05px;width:110.30px;height:21.60px;background:#fbd1d6;border-radius:2.5px;"></div>
<span class="t" style="left:771.15px;top:676px;height:12px;line-height:12px;font-size:11.27px;font-weight:700;-webkit-text-stroke:0;color:#a3152b;letter-spacing:-0.399px;">1 CRITICAL</span>
<div class="r" style="left:859.50px;top:671.05px;width:25.50px;height:21.60px;background:#fff;border:1px solid #e4586a;border-radius:3px;"></div>
<span class="t" style="left:866.19px;top:676px;height:12px;line-height:12px;font-size:11.27px;color:#d9364b;letter-spacing:-0.362px;">+2</span>
<div class="r" style="left:898.00px;top:672.20px;width:57.04px;height:17.00px;background:#f2f3f7;border-radius:2px;"></div>
<span class="t" style="left:902.00px;top:674px;height:14px;line-height:14px;font-size:12.30px;color:#1f2d6b;letter-spacing:-0.110px;">04cfe0c0</span>
<div class="r" style="left:960.04px;top:672.20px;width:56.88px;height:17.00px;background:#f2f3f7;border-radius:2px;"></div>
<span class="t" style="left:964.04px;top:674px;height:14px;line-height:14px;font-size:12.30px;color:#1f2d6b;letter-spacing:-0.131px;">05f9acac</span>
<div class="r" style="left:1021.92px;top:670.80px;width:30.45px;height:19.80px;background:#fff;border:1px solid #d3d7e3;border-radius:3px;"></div>
<span class="t" style="left:1027.02px;top:674px;height:14px;line-height:14px;font-size:12.30px;color:#3a3c46;letter-spacing:-0.205px;">+65</span>
<span class="t" style="left:1081.00px;top:673px;height:14px;line-height:14px;font-size:12.30px;color:#2b2c34;letter-spacing:0.113px;">sha256:ef6ab8ea6cd41b924...</span>
<div class="r" style="left:1264.00px;top:671.60px;width:51.37px;height:17.50px;background:#f0f1f6;border-radius:2px;"></div>
<span class="t" style="left:1268.60px;top:675px;height:11px;line-height:11px;font-size:10.25px;font-weight:700;-webkit-text-stroke:0;color:#555c6e;letter-spacing:0.148px;">22.0 MIB</span>
<div class="r" style="left:357.50px;top:699.00px;width:966.50px;height:1.00px;background:#eaecf1;"></div>
<span class="t" style="left:364.20px;top:710px;height:14px;line-height:14px;font-size:12.30px;color:#2b2c34;letter-spacing:0.869px;">shopistacr.a... /auth-dotnet</span>
<div class="r" style="left:547.00px;top:708.75px;width:111.20px;height:17.50px;background:#e7f7eb;border-radius:2px;"></div>
<span class="t" style="left:570.60px;top:712px;height:11px;line-height:11px;font-size:10.25px;font-weight:700;-webkit-text-stroke:0;color:#2a8745;letter-spacing:0.192px;">74 RUNNING</span>
<svg class="r" style="left:694.70px;top:710.70px;" width="15.20" height="15.20" viewBox="0 0 16 16"><g transform="rotate(-45 8 8)" fill="#6a2dbe"><rect x="2.2" y="6.05" width="11.6" height="3.9" /><circle cx="2.2" cy="6.1" r="2.15"/><circle cx="2.2" cy="9.9" r="2.15"/><circle cx="13.8" cy="6.1" r="2.15"/><circle cx="13.8" cy="9.9" r="2.15"/></g></svg>
<div class="r" style="left:898.00px;top:709.20px;width:186.17px;height:17.00px;background:#f2f3f7;border-radius:2px;"></div>
<span class="t" style="left:902.00px;top:711px;height:14px;line-height:14px;font-size:12.30px;color:#1f2d6b;letter-spacing:-0.085px;">v2-94934627e8e0d2df-0ca3765c</span>
<span class="t" style="left:1081.00px;top:710px;height:14px;line-height:14px;font-size:12.30px;color:#2b2c34;letter-spacing:0.120px;">sha256:94934627e8e0d2df...</span>
<div class="r" style="left:1264.00px;top:708.60px;width:48.60px;height:17.50px;background:#f0f1f6;border-radius:2px;"></div>
<span class="t" style="left:1268.60px;top:712px;height:11px;line-height:11px;font-size:10.25px;font-weight:700;-webkit-text-stroke:0;color:#555c6e;letter-spacing:0.180px;">228 MIB</span>
<svg class="r" style="left:62.00px;top:88.00px;" width="48.00" height="40.00" viewBox="0 0 853 711"><g fill="#ebe8ee">
<circle cx="245" cy="180" r="54"/>
<path d="M296 160 C310 125 360 98 425 100 C445 82 490 80 508 112 C528 140 524 170 516 190 C528 230 536 290 528 315 C520 345 480 362 450 362 L380 368 C330 362 292 330 276 270 C268 230 280 190 296 160Z"/>
<path d="M292 318 L392 366 L366 402 L360 485 L342 545 L292 574 L236 540 L213 474 L246 420 L280 380Z"/>
<path d="M365 385 L600 338 L624 482 L400 538Z"/>
</g>
<path d="M396 412 L580 374 L596 462 L418 506Z" fill="#3b3645"/>
<path d="M418 506 L446 452 L470 470 L510 418 L535 442 L562 398 L590 440 L596 462Z" fill="#ebe8ee"/>
<circle cx="370" cy="232" r="20" fill="#2e2838"/><ellipse cx="478" cy="292" rx="24" ry="20" fill="#2e2838"/>
<path d="M462 112 C488 130 505 165 500 205" stroke="#3b3645" stroke-width="11" fill="none"/>
<path d="M292 150 C282 175 276 200 280 232" stroke="#3b3645" stroke-width="7" fill="none"/>
<path d="M300 335 C330 362 370 372 400 368" stroke="#3b3645" stroke-width="6" fill="none" opacity="0.6"/></svg>
<svg class="r" style="left:75.00px;top:234.00px;" width="18.00" height="18.00" viewBox="0 0 18 18"><circle cx="7.5" cy="7.9" r="4.3" fill="none" stroke="#aca7b5" stroke-width="1.4"/><path d="M10.7 11.1 L14.8 15.2" stroke="#aca7b5" stroke-width="1.5" stroke-linecap="round"/></svg>
<svg class="r" style="left:75.50px;top:264.50px;" width="17.00" height="16.00" viewBox="0 0 17 16"><path d="M3.6 1.2h2.6v1.6h-2.6zM10.6 1.2h2.6v1.6h-2.6z M3.2 3.2h3.4l0.6 11.4h-6.6zM10.2 3.2h3.4l2.6 11.4h-6.6z M7 5h2.8v5h-2.8z" fill="#aca7b5"/></svg>
<svg class="r" style="left:75.80px;top:296.80px;" width="16.20" height="12.00" viewBox="0 0 16.2 12"><rect x="0.6" y="0.6" width="15" height="10.6" rx="1.2" fill="none" stroke="#aca7b5" stroke-width="1.2"/><rect x="0.6" y="0.6" width="15" height="2.6" fill="#aca7b5"/><path d="M2.6 5.2h11M2.6 7.2h11M2.6 9.2h11" stroke="#aca7b5" stroke-width="1"/></svg>
<svg class="r" style="left:75.80px;top:325.50px;" width="16.20" height="13.50" viewBox="0 0 16.2 13.5"><path d="M0.7 0.5V12.6H16" fill="none" stroke="#aca7b5" stroke-width="1.3"/><path d="M2.6 11V7.2L5.8 3.6L9 7.4L11.4 5.2L13.8 8.6V11Z" fill="#aca7b5"/></svg>
<svg class="r" style="left:74.00px;top:353.00px;" width="20.00" height="20.00" viewBox="0 0 20 20"><path d="M8.85 7.95 L5.30 10.00 L1.75 7.95 L1.75 3.85 L5.30 1.80 L8.85 3.85Z" fill="#fff"/><path d="M13.35 15.15 L9.80 17.20 L6.25 15.15 L6.25 11.05 L9.80 9.00 L13.35 11.05Z" fill="#fff"/><path d="M17.45 7.95 L13.90 10.00 L10.35 7.95 L10.35 3.85 L13.90 1.80 L17.45 3.85Z" fill="#fff"/><circle cx="13.9" cy="5.9" r="1.9" fill="#2a2233"/></svg>
<svg class="r" style="left:76.00px;top:385.00px;" width="16.00" height="16.00" viewBox="0 0 16 16"><path d="M13.6 6.2A6.2 6.2 0 1 1 9.6 2.2" fill="none" stroke="#aca7b5" stroke-width="1.4"/><path d="M10.8 7.4A3.1 3.1 0 1 1 8.4 5.1" fill="none" stroke="#aca7b5" stroke-width="1.3"/><path d="M7.8 8.2L14 2" stroke="#aca7b5" stroke-width="1.4" stroke-linecap="round"/></svg>
<svg class="r" style="left:75.50px;top:416.00px;" width="17.00" height="14.00" viewBox="0 0 17 14"><path d="M2.4 12.6A6.8 6.8 0 0 1 8.2 1.9" fill="none" stroke="#aca7b5" stroke-width="1.7" stroke-dasharray="1.5 1.1"/><path d="M12.6 3.4A6.8 6.8 0 0 1 14.6 12.6" fill="none" stroke="#aca7b5" stroke-width="2"/><path d="M7.2 9.6L11 3.2" stroke="#aca7b5" stroke-width="2.2" stroke-linecap="round"/><circle cx="7.4" cy="9.4" r="1.5" fill="#aca7b5"/></svg>
<svg class="r" style="left:75.80px;top:446.00px;" width="16.00" height="13.00" viewBox="0 0 16 13"><path d="M0.4 4.2H3.6C3 2.2 3.6 0.6 5.2 0.6C6.8 0.6 7.4 2.2 6.8 4.2H10.2V6.6C12.2 5.8 13.8 6.6 13.8 8C13.8 9.4 12.2 10.2 10.2 9.4V12.4H6.6V10.2H4.2V12.4H0.4Z" fill="#aca7b5"/></svg>
<svg class="r" style="left:75.80px;top:475.00px;" width="16.00" height="14.00" viewBox="0 0 16 14"><path d="M0 1.4H15.6 M0 5.4H1.8 M5 5.4H15.6 M5 9.2H11.4 M12.6 9.2H15.6 M7.8 12.6H10.6" stroke="#aca7b5" stroke-width="1.6" fill="none"/></svg>
<svg class="r" style="left:76.00px;top:504.50px;" width="16.00" height="15.00" viewBox="0 0 16 15"><path d="M8.6 6.6C7.4 7.6 5.4 8 3.6 6.8C1.6 5.2 2.2 2.2 4.6 1.6C6.4 1.2 7.8 2.2 8.2 3.4 M7 8.2C8.4 7.2 10.6 7 12.2 8.2C14.2 9.8 13.6 12.8 11.2 13.4C9.4 13.8 8 12.8 7.6 11.6" fill="none" stroke="#aca7b5" stroke-width="1.5" stroke-linecap="round"/></svg>
<svg class="r" style="left:76.00px;top:535.00px;" width="16.00" height="14.00" viewBox="0 0 16 14"><path d="M4.2 1L15 1L11.6 12.2L0.8 12.2Z" fill="#aca7b5"/><path d="M1 12.9H11.4" stroke="#aca7b5" stroke-width="1"/><path d="M6.4 3.2H12M5.8 5.2H11.4" stroke="#2a2233" stroke-width="0.9"/></svg>
<svg class="r" style="left:75.50px;top:563.50px;" width="17.00" height="16.00" viewBox="0 0 17 16"><path d="M0.8 1.6H3.2M4.6 1.6H7M8.4 1.6H10.8 M0.8 5.2H3.2 M0.8 8.8H3.2" stroke="#aca7b5" stroke-width="1.7"/><circle cx="10.2" cy="8" r="3.6" fill="none" stroke="#aca7b5" stroke-width="1.4"/><path d="M7.6 10.8L4 14.6" stroke="#aca7b5" stroke-width="1.6" stroke-linecap="round"/></svg>
<svg class="r" style="left:77.70px;top:594.60px;" width="12.60" height="14.40" viewBox="0 0 14 16"><path d="M7 0.8L12.6 2.8V8C12.6 11.2 10.4 13.6 7 15C3.6 13.6 1.4 11.2 1.4 8V2.8Z" fill="none" stroke="#aca7b5" stroke-width="1.3"/><path d="M7 1V15 M2.4 6.2L7 3.6 M2.4 9.4L7 6.8 M3.4 12L7 10" stroke="#aca7b5" stroke-width="1.1"/></svg>
<svg class="r" style="left:75.80px;top:623.80px;" width="16.00" height="16.00" viewBox="0 0 16 16"><circle cx="8" cy="8" r="3.9" fill="none" stroke="#aca7b5" stroke-width="1.3"/><path d="M4.4 8H11.6M8 4.4V11.6" stroke="#aca7b5" stroke-width="0.9"/><ellipse cx="8" cy="8" rx="1.7" ry="3.7" fill="none" stroke="#aca7b5" stroke-width="0.8"/><circle cx="8.00" cy="2.00" r="1.25" fill="#aca7b5"/><circle cx="13.20" cy="5.00" r="1.25" fill="#aca7b5"/><circle cx="13.20" cy="11.00" r="1.25" fill="#aca7b5"/><circle cx="8.00" cy="14.00" r="1.25" fill="#aca7b5"/><circle cx="2.80" cy="11.00" r="1.25" fill="#aca7b5"/><circle cx="2.80" cy="5.00" r="1.25" fill="#aca7b5"/></svg>
<svg class="r" style="left:76.00px;top:665.50px;" width="16.00" height="15.00" viewBox="0 0 16 15"><path d="M2.2 1.6H13.6Q14.8 1.6 14.8 2.8V8.6Q14.8 9.8 13.6 9.8H8.2L4.2 13V9.8H2.2Q1 9.8 1 8.6V2.8Q1 1.6 2.2 1.6Z" fill="none" stroke="#aca7b5" stroke-width="1.3" stroke-linejoin="round"/></svg>
<svg class="r" style="left:76.80px;top:694.60px;" width="14.00" height="14.00" viewBox="0 0 14 14"><circle cx="7" cy="7" r="6.8" fill="#aca7b5"/></svg>
<span class="t" style="left:80.70px;top:696px;height:12px;line-height:12px;font-size:11.27px;font-weight:700;-webkit-text-stroke:0;color:#1d1322;letter-spacing:-0.684px;">?</span>
<svg class="r" style="left:123.50px;top:103.60px;" width="14.00" height="14.00" viewBox="0 0 14 14"><rect x="0.6" y="0.6" width="12.6" height="12.2" rx="1.5" fill="#fff" stroke="#3c7fd2" stroke-width="1.1"/><rect x="1.1" y="1.1" width="3.4" height="11.2" fill="#bdd6f4"/><path d="M6.8 4.4L9.2 6.7L6.8 9" fill="none" stroke="#2f6fc4" stroke-width="1.2"/></svg>
<svg class="r" style="left:216.00px;top:100.40px;" width="20.00" height="20.00" viewBox="0 0 20 20"><path d="M5.6 1.4H18.6V18.6H1.4V5.6Z" fill="none" stroke="#595d68" stroke-width="1.35" stroke-linejoin="miter"/><path d="M6.2 1.4V6.2H1.4" fill="none" stroke="#595d68" stroke-width="1.35"/><path d="M5.7 10.4V15.4M10 6.6V15.4M14.3 6.6V15.4" stroke="#595d68" stroke-width="1.4"/></svg>
<svg class="r" style="left:398.50px;top:105.60px;" width="13.00" height="10.00" viewBox="0 0 13 10"><path d="M1.4 2.4L6.4 7.4L11.4 2.4" fill="none" stroke="#4a4d58" stroke-width="1.45"/></svg>
<svg class="r" style="left:438.00px;top:102.80px;" width="15.00" height="15.00" viewBox="0 0 15 15"><path d="M7.6 1.8V13.4M1.8 7.6H13.4" stroke="#4a4d58" stroke-width="1.7"/></svg>
<svg class="r" style="left:200.00px;top:147.00px;" width="16.00" height="16.00" viewBox="0 0 16 16"><circle cx="6.6" cy="6.6" r="5.1" fill="none" stroke="#7b7f8c" stroke-width="1.3"/><path d="M10.3 10.4L15 15.1" stroke="#7b7f8c" stroke-width="1.4" stroke-linecap="round"/></svg>
<svg class="r" style="left:755.00px;top:148.50px;" width="18.00" height="13.00" viewBox="0 0 18 13"><path d="M5 2.4L1.2 6.5L5 10.6M13 2.4L16.8 6.5L13 10.6M10.4 1L7.6 12" fill="none" stroke="#555b6b" stroke-width="1.3"/></svg>
<svg class="r" style="left:1307.20px;top:152.60px;" width="10.00" height="6.00" viewBox="0 0 10 6"><path d="M0 0.2H9.4L4.7 5.4Z" fill="#53565f"/></svg>
<svg class="r" style="left:859.30px;top:189.30px;" width="9.00" height="6.00" viewBox="0 0 9 6"><path d="M0 0.2H8.6L4.3 5Z" fill="#555b6b"/></svg>
<svg class="r" style="left:132.00px;top:188.40px;" width="9.00" height="14.00" viewBox="0 0 9 14"><path d="M2 2.2L7 7L2 11.8" fill="none" stroke="#4a4d58" stroke-width="1.25"/></svg>
<svg class="r" style="left:133.60px;top:231.00px;" width="11.00" height="8.00" viewBox="0 0 11 8"><path d="M0.8 1.2L5.4 6L10 1.2" fill="none" stroke="#4a4d58" stroke-width="1.2"/></svg>
<svg class="r" style="left:132.80px;top:434.60px;" width="11.00" height="8.00" viewBox="0 0 11 8"><path d="M0.8 1.2L5.4 6L10 1.2" fill="none" stroke="#4a4d58" stroke-width="1.2"/></svg>
<svg class="r" style="left:132.80px;top:466.60px;" width="11.00" height="8.00" viewBox="0 0 11 8"><path d="M0.8 1.2L5.4 6L10 1.2" fill="none" stroke="#4a4d58" stroke-width="1.2"/></svg>
<svg class="r" style="left:132.80px;top:564.60px;" width="11.00" height="8.00" viewBox="0 0 11 8"><path d="M0.8 1.2L5.4 6L10 1.2" fill="none" stroke="#4a4d58" stroke-width="1.2"/></svg>
<svg class="r" style="left:132.80px;top:686.60px;" width="11.00" height="8.00" viewBox="0 0 11 8"><path d="M0.8 1.2L5.4 6L10 1.2" fill="none" stroke="#4a4d58" stroke-width="1.2"/></svg>
<svg class="r" style="left:134.60px;top:262.00px;" width="16.00" height="14.00" viewBox="0 0 16 14"><path d="M0.4 5.2H5.6L7.8 1.4L10 7.6L11.4 5.2H15.2" fill="none" stroke="#3f424c" stroke-width="1.25" stroke-linejoin="round"/><path d="M0.4 10.3H2.2M3.8 10.3H9.2M10.6 10.3H12.2M13.6 10.3H15.2 M0.4 12.8H2.2M3.8 12.8H9.2M10.6 12.8H12.2M13.6 12.8H15.2" stroke="#3f424c" stroke-width="1.2"/></svg>
<svg class="r" style="left:134.60px;top:292.20px;" width="15.00" height="14.00" viewBox="0 0 15 14"><rect x="0.65" y="0.65" width="13.2" height="12.6" fill="none" stroke="#3f424c" stroke-width="1.3"/><path d="M4 3.2V10.8M7.3 3.2V10.8M10.6 3.2V10.8" stroke="#3f424c" stroke-width="1.3"/></svg>
<svg class="r" style="left:134.60px;top:321.60px;" width="15.00" height="14.40" viewBox="0 0 15 14.4"><path d="M4.2 0.7H13.9V13.6H0.7V4.2Z" fill="none" stroke="#1f5fb6" stroke-width="1.3"/><path d="M4.6 0.7V4.6H0.7" fill="none" stroke="#1f5fb6" stroke-width="1.2"/><path d="M4.2 7.6V11.2M7.4 4.8V11.2M10.6 4.8V11.2" stroke="#1f5fb6" stroke-width="1.3"/></svg>
<svg class="r" style="left:135.00px;top:352.00px;" width="15.00" height="15.00" viewBox="0 0 15 15"><path d="M7.40 0.90 L12.56 3.38 L13.83 8.97 L10.26 13.45 L4.54 13.45 L0.97 8.97 L2.24 3.38Z" fill="none" stroke="#3f424c" stroke-width="1.1" stroke-linejoin="round"/><circle cx="7.4" cy="7.5" r="2.7" fill="none" stroke="#3f424c" stroke-width="1"/><path d="M7.4 7.5L7.40 3.60M7.4 7.5L10.45 5.07M7.4 7.5L11.20 8.37M7.4 7.5L9.09 11.01M7.4 7.5L5.71 11.01M7.4 7.5L3.60 8.37M7.4 7.5L4.35 5.07" stroke="#3f424c" stroke-width="0.9"/></svg>
<svg class="r" style="left:131.60px;top:399.20px;" width="15.00" height="15.00" viewBox="0 0 15 15"><circle cx="6" cy="6" r="4.7" fill="none" stroke="#7b7f8c" stroke-width="1.25"/><path d="M9.4 9.5L13.6 13.7" stroke="#7b7f8c" stroke-width="1.3" stroke-linecap="round"/></svg>
<svg class="r" style="left:367.60px;top:185.60px;" width="14.00" height="14.00" viewBox="0 0 14 14"><rect x="0.6" y="0.6" width="12.6" height="12.4" rx="1.5" fill="#fff" stroke="#3c7fd2" stroke-width="1.1"/><rect x="1.1" y="1.1" width="3.6" height="11.4" fill="#bdd6f4"/><path d="M9.6 4.2L7 6.8L9.6 9.4" fill="none" stroke="#2f6fc4" stroke-width="1.2"/></svg>
<svg class="r" style="left:1234.80px;top:186.10px;" width="13.00" height="13.00" viewBox="0 0 13 13"><rect x="4.8" y="0" width="3.4" height="3.6" rx="0.7" transform="rotate(0 6.5 6.5)" fill="#595c66"/><rect x="4.8" y="0" width="3.4" height="3.6" rx="0.7" transform="rotate(60 6.5 6.5)" fill="#595c66"/><rect x="4.8" y="0" width="3.4" height="3.6" rx="0.7" transform="rotate(120 6.5 6.5)" fill="#595c66"/><rect x="4.8" y="0" width="3.4" height="3.6" rx="0.7" transform="rotate(180 6.5 6.5)" fill="#595c66"/><rect x="4.8" y="0" width="3.4" height="3.6" rx="0.7" transform="rotate(240 6.5 6.5)" fill="#595c66"/><rect x="4.8" y="0" width="3.4" height="3.6" rx="0.7" transform="rotate(300 6.5 6.5)" fill="#595c66"/><circle cx="6.5" cy="6.5" r="4.7" fill="#595c66"/><circle cx="6.5" cy="6.5" r="2.25" fill="#fff"/></svg>
<svg class="r" style="left:547.40px;top:219.60px;" width="12.00" height="14.00" viewBox="0 0 12 14"><path d="M5.6 1V12M1.2 7.6L5.6 12L10 7.6" fill="none" stroke="#24252c" stroke-width="1.25"/></svg>
<span class="t" style="left:154.40px;top:587px;height:16px;line-height:16px;font-size:14.86px;color:#17181d;letter-spacing:0.135px;">a</span>
<svg class="r" style="left:150.60px;top:599.00px;" width="16.00" height="4.00" viewBox="0 0 16 4"><path d="M0.6 0.6C4.5 3.6 10.6 3.6 14.4 0.8" fill="none" stroke="#f79a1c" stroke-width="1.2" stroke-linecap="round"/></svg>
<svg class="r" style="left:150.20px;top:613.80px;" width="16.00" height="16.00" viewBox="0 0 16 16"><g transform="rotate(-45 8 8)" fill="#6a2dbe"><rect x="2.2" y="6.05" width="11.6" height="3.9" /><circle cx="2.2" cy="6.1" r="2.15"/><circle cx="2.2" cy="9.9" r="2.15"/><circle cx="13.8" cy="6.1" r="2.15"/><circle cx="13.8" cy="9.9" r="2.15"/></g></svg>
<svg class="r" style="left:151.00px;top:639.40px;" width="13.60" height="13.20" viewBox="0 0 13.6 13.2"><rect x="0.5" y="0.5" width="12.6" height="12.2" fill="#fff" stroke="#5f6473" stroke-width="1"/><path d="M3.5 2.8V10.4M6.8 2.8V10.4M10.1 2.8V10.4" stroke="#5f6473" stroke-width="1"/></svg>
</body></html>
